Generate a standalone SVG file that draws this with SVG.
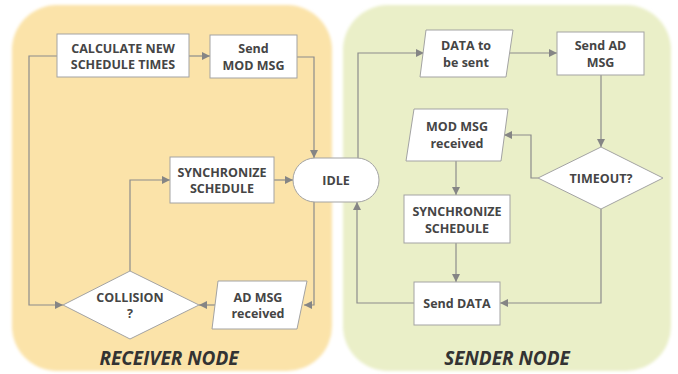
<svg xmlns="http://www.w3.org/2000/svg" width="678" height="374" viewBox="0 0 678 374">
  <defs>
    <filter id="soft" x="-5%" y="-5%" width="110%" height="110%">
      <feGaussianBlur stdDeviation="1.5"/>
    </filter>
    <marker id="arr" viewBox="0 0 10 10" refX="10" refY="5" markerWidth="8" markerHeight="8" markerUnits="userSpaceOnUse" orient="auto">
      <path d="M0,0 L10,5 L0,10 z" fill="#858585"/>
    </marker>
    <style>
      .box { fill: #ffffff; stroke: #a3a3a3; stroke-width: 1; }
      .lbl { font-family: "Open Sans", "Liberation Sans", sans-serif; font-weight: bold; font-size: 12.5px; fill: #454545; text-anchor: middle; }
      .title { font-family: "Open Sans", "Liberation Sans", sans-serif; font-weight: bold; font-style: italic; font-size: 19px; fill: #333333; text-anchor: middle; }
      .wire { fill: none; stroke: #8c8c8c; stroke-width: 1.2; }
      .wa { marker-end: url(#arr); }
    </style>
  </defs>

  <rect width="678" height="374" fill="#ffffff"/>

  <!-- node panels -->
  <rect x="12" y="5" width="320" height="366" rx="45" fill="#fbe3a9" filter="url(#soft)"/>
  <rect x="343" y="5" width="328" height="366" rx="45" fill="#eaefc8" filter="url(#soft)"/>

  <!-- connectors -->
  <g id="connectors">
    <path class="wire wa" d="M189,56 H210"/>
    <path class="wire wa" d="M297,57 H314 V158"/>
    <path class="wire wa" d="M274,180 H293"/>
    <path class="wire wa" d="M130,271 V180 H170"/>
    <path class="wire wa" d="M57,56 H29 V305 H63"/>
    <path class="wire wa" d="M314,202 V305 H304"/>
    <path class="wire wa" d="M215,305 H199"/>
    <path class="wire wa" d="M358,158 V53 H424"/>
    <path class="wire wa" d="M510,53 H557"/>
    <path class="wire wa" d="M601,75 V147"/>
    <path class="wire wa" d="M538,178 H531 V135 H504"/>
    <path class="wire wa" d="M456,161 V195"/>
    <path class="wire wa" d="M456,243 V282"/>
    <path class="wire wa" d="M601,209 V303 H500"/>
    <path class="wire wa" d="M414,303 H357 V202"/>
  </g>

  <!-- receiver side -->
  <g id="calc-schedule">
    <rect class="box" x="57" y="34" width="132" height="43"/>
    <text class="lbl" x="123" y="53">CALCULATE NEW</text>
    <text class="lbl" x="123" y="69">SCHEDULE TIMES</text>
  </g>
  <g id="send-mod">
    <rect class="box" x="210" y="35" width="87" height="43"/>
    <text class="lbl" x="253.5" y="53">Send</text>
    <text class="lbl" x="253.5" y="70">MOD MSG</text>
  </g>
  <g id="sync-receiver">
    <rect class="box" x="170" y="157" width="104" height="46"/>
    <text class="lbl" x="222" y="177">SYNCHRONIZE</text>
    <text class="lbl" x="222" y="193">SCHEDULE</text>
  </g>
  <g id="idle">
    <rect class="box" x="293" y="158" width="86" height="44" rx="22"/>
    <text class="lbl" x="336" y="185">IDLE</text>
  </g>
  <g id="collision">
    <polygon class="box" points="130,271 199,305 130,339 63,305"/>
    <text class="lbl" x="130" y="302">COLLISION</text>
    <text class="lbl" x="130" y="318">?</text>
  </g>
  <g id="ad-received">
    <polygon class="box" points="218,281 307,281 297,329 212,329"/>
    <text class="lbl" x="258" y="302">AD MSG</text>
    <text class="lbl" x="258" y="318">received</text>
  </g>
  <text class="title" x="169" y="365">RECEIVER NODE</text>

  <!-- sender side -->
  <g id="data-to-send">
    <polygon class="box" points="426,30 513,30 506,77 420,77"/>
    <text class="lbl" x="466" y="50">DATA to</text>
    <text class="lbl" x="466" y="67">be sent</text>
  </g>
  <g id="send-ad">
    <rect class="box" x="557" y="32" width="87" height="43"/>
    <text class="lbl" x="600.5" y="50">Send AD</text>
    <text class="lbl" x="600.5" y="67">MSG</text>
  </g>
  <g id="timeout">
    <polygon class="box" points="601,147 663,178 601,209 538,178"/>
    <text class="lbl" x="601" y="183">TIMEOUT?</text>
  </g>
  <g id="mod-received">
    <polygon class="box" points="414,109 508,109 501,161 406,161"/>
    <text class="lbl" x="457" y="131">MOD MSG</text>
    <text class="lbl" x="457" y="148">received</text>
  </g>
  <g id="sync-sender">
    <rect class="box" x="404" y="195" width="106" height="48"/>
    <text class="lbl" x="457" y="216">SYNCHRONIZE</text>
    <text class="lbl" x="457" y="233">SCHEDULE</text>
  </g>
  <g id="send-data">
    <rect class="box" x="414" y="282" width="86" height="43"/>
    <text class="lbl" x="457" y="308">Send DATA</text>
  </g>
  <text class="title" x="507" y="365">SENDER NODE</text>
</svg>
